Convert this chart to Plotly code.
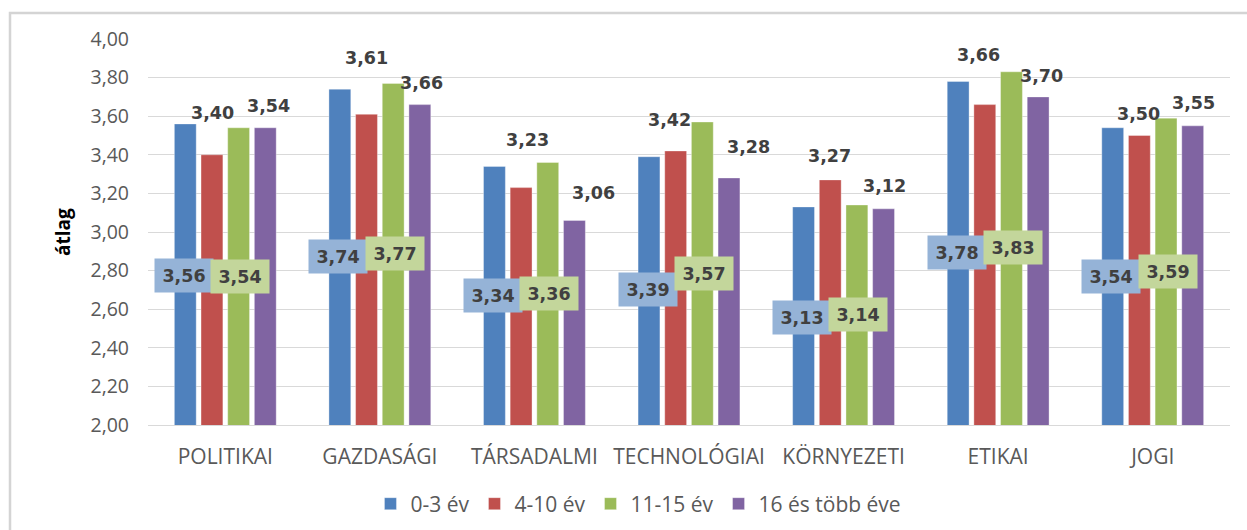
import plotly.graph_objects as go

categories = ["POLITIKAI", "GAZDASÁGI", "TÁRSADALMI", "TECHNOLÓGIAI", "KÖRNYEZETI", "ETIKAI", "JOGI"]
series_names = ["0-3 év", "4-10 év", "11-15 év", "16 és több éve"]
v_0_3 = [3.56, 3.74, 3.34, 3.39, 3.13, 3.78, 3.54]
v_4_10 = [3.40, 3.61, 3.23, 3.42, 3.27, 3.66, 3.50]
v_11_15 = [3.54, 3.77, 3.36, 3.57, 3.14, 3.83, 3.59]
v_16 = [3.54, 3.66, 3.06, 3.28, 3.12, 3.70, 3.55]
y_ticks = [2.0, 2.2, 2.4, 2.6, 2.8, 3.0, 3.2, 3.4, 3.6, 3.8, 4.0]

# label placement (layout only, in axis units / pixel shifts)
red_label_y = [3.616, 3.900, 3.478, 3.581, 3.392, 3.917, 3.612]
red_label_dx = [1, 0, 6, -6, -1, -6, -1]
purple_label_y = [3.654, 3.771, 3.203, 3.443, 3.237, 3.810, 3.669]
purple_label_dx = [3, 2, 19, 19, 1, 3, 1]
blue_box_y = [2.777, 2.873, 2.672, 2.700, 2.558, 2.894, 2.770]
green_box_y = [2.772, 2.887, 2.682, 2.786, 2.574, 2.920, 2.796]

colors = ["#4F81BD", "#C0504D", "#9BBB59", "#8064A2"]
all_values = [v_0_3, v_4_10, v_11_15, v_16]

BARGAP = 0.31
slot = (1 - BARGAP) / 4

fig = go.Figure()
for name, vals, col in zip(series_names, all_values, colors):
    fig.add_trace(go.Bar(
        x=categories, y=vals, name=name,
        marker=dict(color=col, line=dict(color="rgba(255,255,255,0.35)", width=1)),
    ))

def fmt(v):
    return f"{v:.2f}".replace(".", ",")

label_font = dict(family="DejaVu Sans", size=17.5, color="#404040", weight="bold")
annotations = []
for i in range(len(categories)):
    for j, vals, ly, dx in ((1, v_4_10, red_label_y, red_label_dx), (3, v_16, purple_label_y, purple_label_dx)):
        annotations.append(dict(
            x=i + (j - 1.5) * slot, y=ly[i], xref="x", yref="y",
            text=fmt(vals[i]), showarrow=False, xanchor="center", yanchor="middle",
            xshift=dx[i], font=label_font,
        ))
    for j, vals, ly, bg, dx in ((0, v_0_3, blue_box_y, "#95B3D7", -1.5), (2, v_11_15, green_box_y, "#C3D69B", 1.5)):
        annotations.append(dict(
            x=i + (j - 1.5) * slot, y=ly[i], xref="x", yref="y",
            text=fmt(vals[i]), showarrow=False, xanchor="center", yanchor="middle",
            xshift=dx, font=label_font, bgcolor=bg, width=58, height=33, borderpad=0,
        ))

annotations.append(dict(
    x=-0.0786, y=0.5, xref="paper", yref="paper", text="átlag", textangle=-90,
    showarrow=False, xanchor="center", yanchor="middle",
    font=dict(family="Open Sans", size=19, color="#000000", weight="bold"),
))

fig.update_layout(
    width=1247, height=530,
    margin=dict(l=148, r=17, t=39, b=105, autoexpand=False),
    paper_bgcolor="white", plot_bgcolor="white",
    barmode="group", bargap=BARGAP, bargroupgap=0.18,
    separators=", ",
    font=dict(family="Open Sans", color="#595959"),
    annotations=annotations,
    showlegend=True,
    legend=dict(
        orientation="h", xref="container", yref="container",
        x=0.512, y=0.049, xanchor="center", yanchor="middle",
        font=dict(family="Open Sans", size=21, color="#595959"),
        itemwidth=30, traceorder="normal",
    ),
    shapes=[dict(
        type="rect", xref="paper", yref="paper",
        x0=(10 - 148) / 1082, x1=(1252 - 148) / 1082,
        y0=(425 - 540) / 386, y1=1 + (39 - 13) / 386,
        line=dict(color="#D4D4D4", width=2.5), fillcolor="rgba(0,0,0,0)", layer="below",
    )],
)
fig.update_yaxes(
    range=[2, 4], tickvals=y_ticks, tickformat=".2f",
    showgrid=True, gridcolor="#D9D9D9", gridwidth=1, zeroline=False,
    showline=False, ticks="", ticklabelstandoff=18, automargin=False,
    tickfont=dict(family="Open Sans", size=19.5, color="#595959"),
)
fig.update_xaxes(
    showline=True, linecolor="#D9D9D9", linewidth=1, ticks="",
    ticklabelstandoff=13, automargin=False,
    tickfont=dict(family="Open Sans", size=21, color="#595959"),
)

fig.write_html(
    "out.html",
    config={"displayModeBar": False},
    post_script="document.body.style.margin='0';document.body.style.overflow='hidden';",
)
